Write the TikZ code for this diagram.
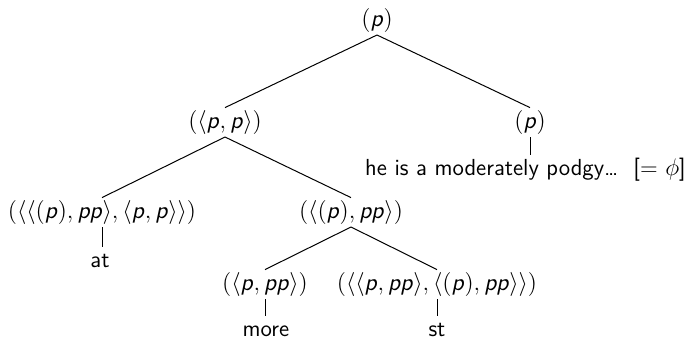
\documentclass[tikz,border=0pt]{standalone}
\DeclareMathAlphabet{\mathsfit}{OT1}{cmss}{m}{sl}
\newcommand\pv{\mathsfit{p}}
\begin{document}
\begin{tikzpicture}[x=0.5pt,y=-0.5pt,
  tn/.style={anchor=base,inner xsep=0pt,inner ysep=1.4pt,
    text height=8.6pt,text depth=2.9pt,
    font=\fontsize{11.6}{14}\selectfont\sffamily},
  edge/.style={draw=black,line width=0.5pt}]
\useasboundingbox (0,0) rectangle (685,338);
% internal nodes
\node[tn] (r) at (377,26) {$(\pv)$};
\node[tn] (a) at (225,128) {$(\langle \pv,\pv\rangle)$};
\node[tn] (b) at (530,128) {$(\pv)$};
\node[tn] (c) at (102,218) {$(\langle\langle(\pv),\pv\pv\rangle,\langle \pv,\pv\rangle\rangle)$};
\node[tn] (d) at (351,218) {$(\langle(\pv),\pv\pv\rangle)$};
\node[tn] (e) at (265,290) {$(\langle \pv,\pv\pv\rangle)$};
\node[tn] (f) at (437,290) {$(\langle\langle \pv,\pv\pv\rangle,\langle(\pv),\pv\pv\rangle\rangle)$};
% leaves
\node[tn] (bl) at (525.5,175) {he is a moderately podgy\ldots\ \ [=\ $\phi$]};
\node[tn] (cl) at (100,267) {at};
\node[tn] (el) at (266,336) {more};
\node[tn] (fl) at (437,336) {st};
% branches
\draw[edge] (r.south) -- (a.north);
\draw[edge] (r.south) -- (b.north);
\draw[edge] (a.south) -- (c.north);
\draw[edge] (a.south) -- (d.north);
\draw[edge] (d.south) -- (e.north);
\draw[edge] (d.south) -- (f.north);
\draw[edge] (b.south) -- (b.south |- bl.north);
\draw[edge] (c.south) -- (c.south |- cl.north);
\draw[edge] (e.south) -- (e.south |- el.north);
\draw[edge] (f.south) -- (f.south |- fl.north);
\end{tikzpicture}
\end{document}
